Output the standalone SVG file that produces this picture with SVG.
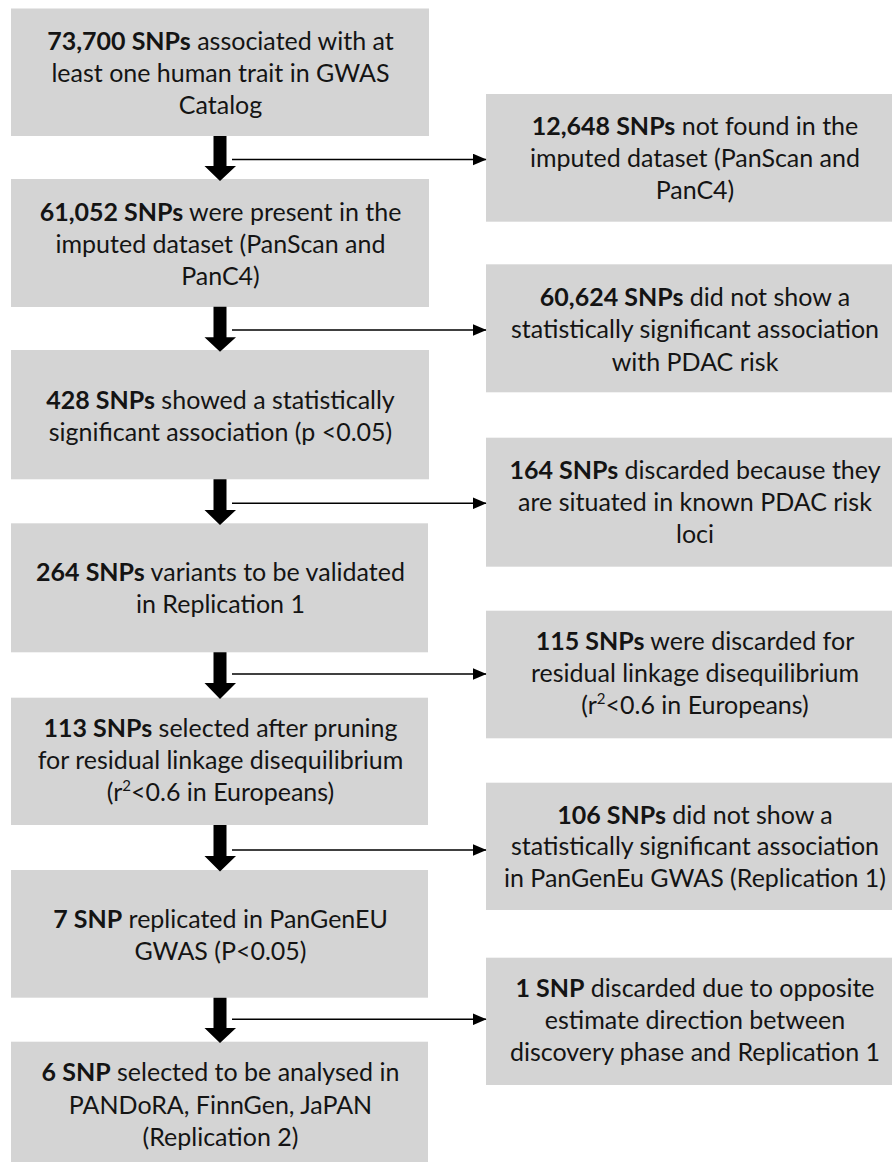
<svg xmlns="http://www.w3.org/2000/svg" width="892" height="1162" viewBox="0 0 892 1162">
<defs>
<style>
.box{fill:#d4d4d4}
text{font-family:Lato,"Open Sans","Liberation Sans",sans-serif;font-size:25px;fill:#141414;text-anchor:middle}
.b{font-weight:bold}
.sup{font-size:15px}
.shaft{fill:#000}
.hline{stroke:#000;stroke-width:1.5;fill:none}
</style>
<marker id="ah" markerWidth="14" markerHeight="12" refX="13.5" refY="6" orient="auto" markerUnits="userSpaceOnUse">
<path d="M0,0 L14,6 L0,12 Z" fill="#000"/>
</marker>
</defs>
<rect width="892" height="1162" fill="#fff"/>

<g id="n1"><rect class="box" x="11" y="8.5" width="418" height="127.5"/>
<text x="220.5" y="50"><tspan class="b">73,700 SNPs</tspan> associated with at</text>
<text x="220.5" y="82">least one human trait in GWAS</text>
<text x="220.5" y="114">Catalog</text></g>

<g id="n2"><rect class="box" x="11" y="179" width="418" height="128"/>
<text x="220.5" y="220.5"><tspan class="b">61,052 SNPs</tspan> were present in the</text>
<text x="220.5" y="252.5">imputed dataset (PanScan and</text>
<text x="220.5" y="284.5">PanC4)</text></g>

<g id="n3"><rect class="box" x="11" y="350" width="418" height="129.3"/>
<text x="220.5" y="408.5"><tspan class="b">428 SNPs</tspan> showed a statistically</text>
<text x="220.5" y="440.5">significant association (p &lt;0.05)</text></g>

<g id="n4"><rect class="box" x="11" y="523.3" width="417" height="129"/>
<text x="220.5" y="581"><tspan class="b">264 SNPs</tspan> variants to be validated</text>
<text x="220.5" y="613">in Replication 1</text></g>

<g id="n5"><rect class="box" x="11" y="697.7" width="417" height="127.3"/>
<text x="220.5" y="736.5"><tspan class="b">113 SNPs</tspan> selected after pruning</text>
<text x="220.5" y="768.5">for residual linkage disequilibrium</text>
<text x="220.5" y="800.5">(r<tspan class="sup" dy="-10">2</tspan><tspan dy="10">&lt;0.6 in Europeans)</tspan></text></g>

<g id="n6"><rect class="box" x="11" y="870" width="417" height="127.7"/>
<text x="220.5" y="927.5"><tspan class="b">7 SNP</tspan> replicated in PanGenEU</text>
<text x="220.5" y="959.5">GWAS (P&lt;0.05)</text></g>

<g id="n7"><rect class="box" x="11" y="1041.7" width="417" height="130"/>
<text x="220.5" y="1081"><tspan class="b">6 SNP</tspan> selected to be analysed in</text>
<text x="220.5" y="1113.5">PANDoRA, FinnGen, JaPAN</text>
<text x="220.5" y="1146">(Replication 2)</text></g>

<g id="r1"><rect class="box" x="486" y="94" width="420" height="127.7"/>
<text x="695" y="135"><tspan class="b">12,648 SNPs</tspan> not found in the</text>
<text x="695" y="167">imputed dataset (PanScan and</text>
<text x="695" y="199">PanC4)</text></g>

<g id="r2"><rect class="box" x="486" y="264.3" width="420" height="128"/>
<text x="695" y="306"><tspan class="b">60,624 SNPs</tspan> did not show a</text>
<text x="695" y="338">statistically significant association</text>
<text x="695" y="370.5">with PDAC risk</text></g>

<g id="r3"><rect class="box" x="486" y="437.7" width="420" height="129"/>
<text x="695" y="478.5"><tspan class="b">164 SNPs</tspan> discarded because they</text>
<text x="695" y="510.5">are situated in known PDAC risk</text>
<text x="695" y="543">loci</text></g>

<g id="r4"><rect class="box" x="486" y="610.7" width="420" height="127.6"/>
<text x="695" y="649.5"><tspan class="b">115 SNPs</tspan> were discarded for</text>
<text x="695" y="681.5">residual linkage disequilibrium</text>
<text x="695" y="714">(r<tspan class="sup" dy="-10">2</tspan><tspan dy="10">&lt;0.6 in Europeans)</tspan></text></g>

<g id="r5"><rect class="box" x="486" y="782.7" width="420" height="127.3"/>
<text x="695" y="823.5"><tspan class="b">106 SNPs</tspan> did not show a</text>
<text x="695" y="855">statistically significant association</text>
<text x="695" y="887">in PanGenEu GWAS (Replication 1)</text></g>

<g id="r6"><rect class="box" x="486" y="957.7" width="420" height="127.3"/>
<text x="695" y="997"><tspan class="b">1 SNP</tspan> discarded due to opposite</text>
<text x="695" y="1029">estimate direction between</text>
<text x="695" y="1061">discovery phase and Replication 1</text></g>

<g id="connectors">
<path class="shaft" d="M213.5,136 H226.5 V166 H236 L220,181 L204.5,166 H213.5 Z"/>
<line class="hline" x1="232" y1="159.5" x2="486" y2="159.5" marker-end="url(#ah)"/>
<path class="shaft" d="M213.5,306.7 H226.5 V337.3 H236 L220,351.7 L204.5,337.3 H213.5 Z"/>
<line class="hline" x1="232" y1="330" x2="486" y2="330" marker-end="url(#ah)"/>
<path class="shaft" d="M213.5,479.3 H226.5 V510 H236 L220,525 L204.5,510 H213.5 Z"/>
<line class="hline" x1="232" y1="503.3" x2="486" y2="503.3" marker-end="url(#ah)"/>
<path class="shaft" d="M213.5,652.3 H226.5 V683 H236 L220,699 L204.5,683 H213.5 Z"/>
<line class="hline" x1="232" y1="674" x2="486" y2="674" marker-end="url(#ah)"/>
<path class="shaft" d="M213.5,825 H226.5 V856 H236 L220,871.5 L204.5,856 H213.5 Z"/>
<line class="hline" x1="232" y1="850" x2="486" y2="850" marker-end="url(#ah)"/>
<path class="shaft" d="M213.5,997.7 H226.5 V1028 H236 L220,1043 L204.5,1028 H213.5 Z"/>
<line class="hline" x1="232" y1="1019.3" x2="486" y2="1019.3" marker-end="url(#ah)"/>
</g>
</svg>
